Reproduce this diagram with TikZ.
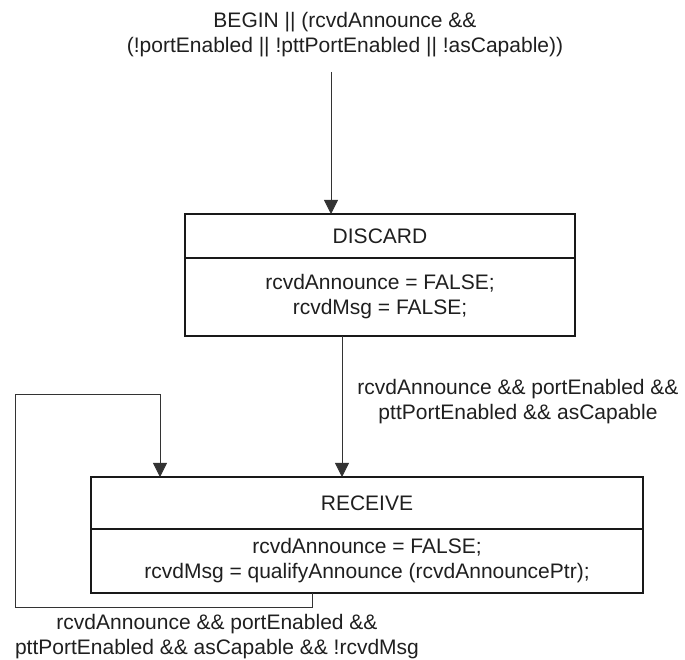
\documentclass[tikz,border=0pt]{standalone}
\usepackage{fontspec}
\setmainfont{Liberation Sans}
\usepackage{tikz}
\usetikzlibrary{positioning}
\usetikzlibrary{arrows.meta}

\begin{document}
\begin{tikzpicture}[x=1pt, y=1pt,
	every node/.style={font=\fontsize{21}{25}\selectfont, text=black!88},
	state/.style={draw=black!90, line width=1.3pt, outer sep=0pt, inner sep=0pt, align=center},
	cond/.style={align=center, inner sep=0pt},
	trans/.style={draw=black!80, line width=0.8pt, -{Triangle[length=14pt, width=14pt]}}]
	\useasboundingbox (0,0) rectangle (685,660);

	\node [state, minimum width=390pt, minimum height=44pt] (discard) at (380,424) {DISCARD};
	\node [state, minimum width=390pt, minimum height=78pt, below=0pt of discard] (discard_b) {rcvdAnnounce = FALSE;\\rcvdMsg = FALSE;};

	\node [state, minimum width=552pt, minimum height=52pt] (receive) at (367,157) {RECEIVE};
	\node [state, minimum width=552pt, minimum height=64pt, below=0pt of receive] (receive_b) {rcvdAnnounce = FALSE;\\rcvdMsg = qualifyAnnounce (rcvdAnnouncePtr);};

	\node [cond] (begin) at (345,625.5) {BEGIN || (rcvdAnnounce \&\&\\(!portEnabled || !pttPortEnabled || !asCapable))};
	\coordinate (start) at (331,588);
	\draw [trans] (start) -- (start |- discard.north);

	\node [cond] (go) at (518,258) {rcvdAnnounce \&\& portEnabled \&\&\\pttPortEnabled \&\& asCapable};
	\draw [trans] ([xshift=-38pt]discard_b.south) -- ([xshift=-38pt]discard_b.south |- receive.north);

	\node [cond] (stay) at (217,23) {rcvdAnnounce \&\& portEnabled \&\&\\pttPortEnabled \&\& asCapable \&\& !rcvdMsg};
	\coordinate (low) at (15,53);
	\coordinate (top) at (160,266);
	\draw [trans] ([xshift=-55pt]receive_b.south) |- (low) |- (top) -- (top |- receive.north);
\end{tikzpicture}
\end{document}
